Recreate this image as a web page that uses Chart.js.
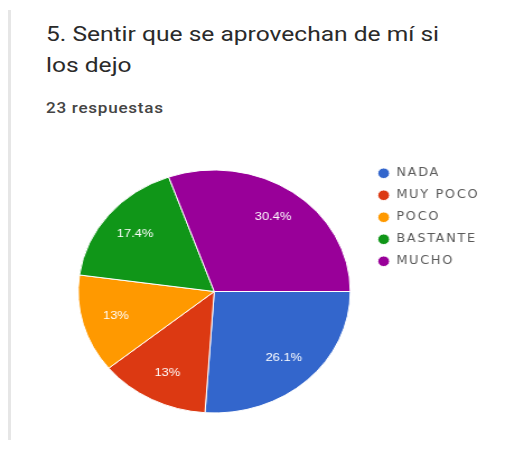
<!DOCTYPE html>
<html>
<head>
<meta charset="utf-8">
<script src="https://cdn.jsdelivr.net/npm/chart.js@4"></script>
<style>
    body { margin: 0; background: #fff; }
    #wrap { position: relative; width: 505px; height: 449px; overflow: hidden; }
    #edge { position: absolute; left: 8px; top: 10px; width: 3px; height: 430px; background: #e6e6e6; }
    #title { position: absolute; left: 46px; top: 19px; font-family: Roboto, sans-serif; font-size: 21px; line-height: 31px; color: #2a2a2a; white-space: nowrap; transform: scaleX(1.17); transform-origin: 0 0; }
    #sub { position: absolute; left: 46px; top: 100px; font-family: Roboto, sans-serif; font-size: 14px; font-weight: 500; letter-spacing: 0.6px; color: #444; transform: scaleX(1.22); transform-origin: 0 0; }
    canvas { position: absolute; left: 0; top: 0; }
</style>
</head>
<body>
<div id="wrap">
    <div id="edge"></div>
    <div id="title">5. Sentir que se aprovechan de mí si<br>los dejo</div>
    <div id="sub">23 respuestas</div>
    <!-- the screenshot is a bit stretched sideways, so is the canvas -->
    <canvas id="pie" width="451" height="449" style="width:505px;height:449px"></canvas>
</div>
<script>
let labels = ['NADA', 'MUY POCO', 'POCO', 'BASTANTE', 'MUCHO'];
let answers = [6, 3, 3, 4, 7];
let colors = ['#3366CC', '#DC3912', '#FF9900', '#109618', '#990099'];

// legend text in the screenshot is spread out
let spread_text = {
    id: 'spread_text',
    beforeUpdate(chart) {
        chart.ctx.letterSpacing = '1.5px';
    },
    beforeDraw(chart) {
        chart.ctx.letterSpacing = '1.5px';
    }
};

// percentage text inside the slices, like google forms
let pct_labels = {
    id: 'pct_labels',
    afterDatasetsDraw(chart) {
        let ctx = chart.ctx;
        let meta = chart.getDatasetMeta(0);
        let data = chart.data.datasets[0].data;
        let total = data.reduce((a, b) => a + b, 0);
        ctx.save();
        ctx.letterSpacing = '0px';
        ctx.fillStyle = '#fff';
        ctx.font = '11.5px "Liberation Sans", Arial, sans-serif';
        ctx.textAlign = 'center';
        ctx.textBaseline = 'middle';
        meta.data.forEach(function (arc, i) {
            let p = arc.getProps(['x', 'y', 'startAngle', 'endAngle', 'outerRadius'], true);
            let mid = (p.startAngle + p.endAngle) / 2;
            let r = p.outerRadius * 0.75;
            let txt = parseFloat((data[i] / total * 100).toFixed(1)) + '%';
            ctx.fillText(txt, p.x + Math.cos(mid) * r, p.y + Math.sin(mid) * r);
        });
        ctx.restore();
    }
};

let pie_param = {
    type: 'pie',
    data: {
        labels: labels,
        datasets: [{
            data: answers,
            backgroundColor: colors,
            borderColor: '#fff',
            borderWidth: 1,
            radius: 121.5,
        }]
    },
    options: {
        responsive: false,
        maintainAspectRatio: false,
        animation: false,
        rotation: 90,
        layout: {
            padding: {top: 157, bottom: 23, left: 56, right: 13}
        },
        plugins: {
            tooltip: {enabled: false},
            legend: {
                position: 'right',
                align: 'start',
                labels: {
                    usePointStyle: true,
                    pointStyle: 'circle',
                    boxHeight: 7.5,
                    boxWidth: 11,
                    padding: 10.5,
                    color: '#5a5a5a',
                    font: {family: '"DejaVu Sans", sans-serif', size: 11.5}
                }
            }
        }
    },
    plugins: [spread_text, pct_labels]
};

let pie = new Chart(document.getElementById('pie'), pie_param);
</script>
</body>
</html>
